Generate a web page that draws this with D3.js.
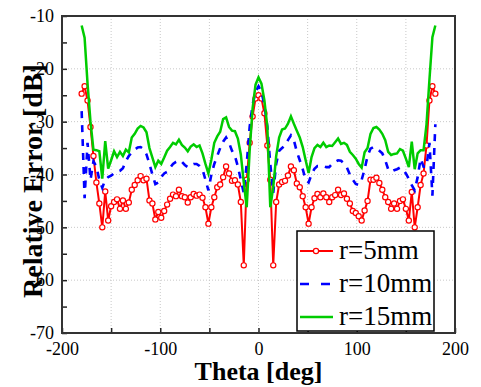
<!DOCTYPE html>
<html>
<head>
<meta charset="utf-8">
<script src="https://cdn.jsdelivr.net/npm/d3@7"></script>
<style>
  body { margin: 0; background: #fff; }
  text { font-family: "Liberation Serif", "Times New Roman", Times, serif; }
</style>
</head>
<body>
<svg id="chart" width="481" height="387"></svg>
<script>
// angles (deg)
const theta = [-180,-177,-174,-171,-168,-165,-162,-159,-156,-153,-150,-147,-144,-141,-138,-135,-132,-129,-126,-123,
  -120,-117,-114,-111,-108,-105,-102,-99,-96,-93,-90,-87,-84,-81,-78,-75,-72,-69,-66,-63,
  -60,-57,-54,-51,-48,-45,-42,-39,-36,-33,-30,-27,-24,-21,-18,-15,-12,-9,-6,-3,
  0,3,6,9,12,15,18,21,24,27,30,33,36,39,42,45,48,51,54,57,
  60,63,66,69,72,75,78,81,84,87,90,93,96,99,102,105,108,111,114,117,
  120,123,126,129,132,135,138,141,144,147,150,153,156,159,162,165,168,171,174,177,180];

// r = 5mm
const r5 = [-24.7,-23.3,-26.0,-31.0,-36.5,-41.5,-45.5,-50.0,-43.2,-48.7,-46.0,-45.2,-44.7,-46.5,-44.9,-46.5,-45.3,-42.9,-42.0,-41.1,
  -40.3,-41.1,-40.8,-44.9,-45.5,-48.5,-47.1,-48.2,-46.9,-45.7,-44.6,-43.8,-44.1,-42.9,-44.1,-44.3,-45.3,-44.3,-43.7,-44.0,
  -43.8,-44.4,-46.2,-49.3,-46.2,-44.3,-42.4,-41.9,-40.5,-38.5,-39.8,-41.2,-41.1,-41.9,-45.2,-57.2,-41.0,-34.0,-29.0,-25.6,
  -25.0,-25.6,-28.4,-34.5,-41.0,-57.2,-45.2,-41.9,-41.4,-41.2,-40.2,-38.5,-39.2,-41.7,-42.4,-44.1,-46.2,-49.3,-46.2,-44.5,
  -43.7,-44.3,-43.6,-44.3,-45.2,-44.3,-43.9,-42.9,-43.9,-43.6,-44.6,-45.5,-46.9,-47.3,-47.9,-48.7,-46.8,-45.0,-41.0,-41.0,
  -40.6,-41.6,-42.9,-44.3,-45.2,-46.5,-45.5,-46.5,-45.0,-44.7,-46.5,-48.7,-43.3,-50.0,-46.2,-42.0,-39.8,-34.5,-26.0,-23.3,-24.7];

// r = 10mm
const r10 = [-28.0,-44.5,-34.0,-41.0,-37.5,-38.5,-41.0,-42.5,-41.0,-40.5,-40.2,-39.8,-39.5,-39.3,-38.8,-37.5,-36.5,-35.8,-35.3,-34.9,
  -34.8,-35.2,-36.2,-38.0,-40.0,-41.8,-41.5,-40.5,-39.8,-39.5,-38.7,-38.0,-37.6,-37.3,-37.6,-38.2,-38.6,-38.3,-38.0,-38.0,
  -38.4,-39.0,-41.0,-43.0,-40.0,-38.0,-36.5,-35.0,-33.8,-33.0,-34.0,-35.5,-36.5,-38.5,-41.0,-43.5,-38.0,-31.0,-26.8,-24.3,
  -23.3,-24.3,-26.8,-31.0,-38.0,-43.5,-38.0,-35.5,-35.0,-34.5,-33.5,-32.6,-33.5,-35.7,-37.3,-39.0,-41.0,-41.5,-40.0,-38.9,
  -38.4,-38.4,-38.4,-38.6,-38.6,-38.0,-37.6,-37.3,-37.4,-37.9,-38.7,-40.0,-41.0,-41.8,-42.0,-41.0,-39.0,-36.5,-35.1,-34.8,
  -35.0,-35.5,-36.0,-37.3,-39.0,-39.5,-39.2,-39.0,-38.7,-39.0,-39.8,-40.8,-42.0,-43.0,-40.5,-37.0,-38.5,-38.5,-34.0,-44.0,-30.5];

// r = 15mm
const r15 = [-11.8,-14.1,-22.8,-30.0,-35.3,-35.4,-35.6,-40.8,-33.7,-38.9,-37.3,-35.6,-36.7,-35.7,-36.5,-35.3,-35.8,-33.0,-32.3,-31.3,
  -30.8,-31.1,-32.0,-35.0,-36.8,-38.6,-37.4,-38.0,-36.8,-35.5,-34.8,-34.0,-34.3,-33.4,-34.4,-34.9,-35.6,-34.7,-34.3,-34.8,
  -34.5,-36.0,-38.0,-39.8,-37.2,-34.0,-32.8,-31.9,-29.5,-29.2,-31.0,-31.7,-31.8,-33.2,-36.2,-41.5,-46.2,-35.5,-27.5,-23.0,
  -21.6,-22.8,-26.0,-31.0,-46.2,-42.4,-36.5,-33.0,-31.5,-31.3,-30.4,-29.0,-30.4,-31.7,-33.0,-34.8,-37.3,-39.7,-36.7,-35.0,
  -34.4,-34.8,-34.0,-34.8,-34.5,-34.6,-33.9,-33.2,-34.2,-34.0,-34.4,-35.7,-36.3,-37.0,-38.0,-38.7,-35.8,-35.0,-32.3,-31.2,
  -31.0,-31.5,-32.3,-33.5,-35.7,-36.3,-36.1,-36.0,-35.2,-35.5,-37.0,-38.6,-33.8,-39.0,-36.0,-35.4,-35.4,-30.5,-22.0,-14.0,-11.8];

const seriesNames = ['r=5mm', 'r=10mm', 'r=15mm'];
const xTicks = [-200, -150, -100, -50, 0, 50, 100, 150, 200];
const yTicks = [-70, -65, -60, -55, -50, -45, -40, -35, -30, -25, -20, -15, -10];

const serif = '"Liberation Serif", "Times New Roman", Times, serif';

const svg = d3.select('#chart');
const box = {left: 62, right: 455, top: 16, bottom: 333};

const x = d3.scaleLinear().domain([-200, 200]).range([box.left, box.right]);
const y = d3.scaleLinear().domain([-70, -10]).range([box.bottom, box.top]);

// grid
const grid = svg.append('g').attr('class', 'grid')
  .style('stroke', '#c8c8c8').style('stroke-dasharray', '1,2');
grid.selectAll('line.gx')
  .data(xTicks.filter(d => d > -200 && d < 200))
  .enter().append('line')
    .attr('x1', d => x(d)).attr('x2', d => x(d))
    .attr('y1', box.top).attr('y2', box.bottom);
grid.selectAll('line.gy')
  .data(yTicks.filter(d => d % 10 === 0 && d > -70 && d < -10))
  .enter().append('line')
    .attr('x1', box.left).attr('x2', box.right)
    .attr('y1', d => y(d)).attr('y2', d => y(d));

// lines
const line = vals => d3.line()
  .x((d, i) => x(theta[i]))
  .y(d => y(d))(vals);

const plot = svg.append('g');

plot.append('path')
  .attr('d', line(r5))
  .style('fill', 'none').style('stroke', '#ff0000').style('stroke-width', 2);

plot.selectAll('circle.m5')
  .data(r5).enter().append('circle')
    .attr('cx', (d, i) => x(theta[i]))
    .attr('cy', d => y(d))
    .attr('r', 2.6)
    .style('fill', '#fff').style('stroke', '#ff0000').style('stroke-width', 1.2);

plot.append('path')
  .attr('d', line(r10))
  .style('fill', 'none').style('stroke', '#0000ff').style('stroke-width', 2.6)
  .style('stroke-dasharray', '7,7');

plot.append('path')
  .attr('d', line(r15))
  .style('fill', 'none').style('stroke', '#00cc00').style('stroke-width', 2.5);

// axes
const fontTick = '18px';
svg.append('g')
  .attr('transform', `translate(0,${box.bottom})`)
  .call(d3.axisBottom(x).tickValues(xTicks).tickSizeInner(-5).tickSizeOuter(0).tickPadding(9)
    .tickFormat(d => d % 100 === 0 ? d : ''))
  .attr('font-family', serif)
  .call(g => g.select('.domain').remove())
  .call(g => g.selectAll('line').style('stroke', '#222').style('stroke-width', 1.5))
  .call(g => g.selectAll('text').style('font-size', fontTick).style('fill', '#000'));

svg.append('g')
  .attr('transform', `translate(${box.left},0)`)
  .call(d3.axisLeft(y).tickValues(yTicks).tickSizeInner(-5).tickSizeOuter(0).tickPadding(8)
    .tickFormat(d => d % 10 === 0 ? d : ''))
  .attr('font-family', serif)
  .call(g => g.select('.domain').remove())
  .call(g => g.selectAll('line').style('stroke', '#222').style('stroke-width', 1.5))
  .call(g => g.selectAll('text').style('font-size', fontTick).style('fill', '#000'));

// frame
svg.append('rect')
  .attr('x', box.left).attr('y', box.top)
  .attr('width', box.right - box.left).attr('height', box.bottom - box.top)
  .style('fill', 'none').style('stroke', '#333').style('stroke-width', 2);

// axis titles
svg.append('text')
  .attr('x', (box.left + box.right) / 2).attr('y', 380)
  .attr('text-anchor', 'middle')
  .attr('font-family', serif)
  .style('font-size', '26px').style('font-weight', 'bold')
  .text('Theta [deg]');

svg.append('text')
  .attr('transform', 'translate(42,181) rotate(-90)')
  .attr('text-anchor', 'middle')
  .attr('font-family', serif)
  .style('font-size', '28px').style('font-weight', 'bold')
  .text('Relative Error [dB]');

// legend
const lg = {x: 297, y: 231, w: 137, h: 100, rowY: [251, 284, 317]};
const legend = svg.append('g').attr('font-family', serif);
legend.append('rect')
  .attr('x', lg.x).attr('y', lg.y).attr('width', lg.w).attr('height', lg.h)
  .style('fill', '#fff').style('stroke', '#000').style('stroke-width', 1.5);

const lstyles = [
  {stroke: '#ff0000', width: 2, dash: null},
  {stroke: '#0000ff', width: 2.6, dash: '9,12'},
  {stroke: '#00cc00', width: 2.5, dash: null}
];
seriesNames.forEach((name, i) => {
  const cy = lg.rowY[i];
  legend.append('line')
    .attr('x1', lg.x + 3).attr('x2', lg.x + 36)
    .attr('y1', cy).attr('y2', cy)
    .style('stroke', lstyles[i].stroke).style('stroke-width', lstyles[i].width)
    .style('stroke-dasharray', lstyles[i].dash);
  if (i === 0) {
    legend.append('circle')
      .attr('cx', lg.x + 19).attr('cy', cy).attr('r', 2.6)
      .style('fill', '#fff').style('stroke', '#ff0000').style('stroke-width', 1.2);
  }
  legend.append('text')
    .attr('x', lg.x + 42).attr('y', cy + 8)
    .style('font-size', '27px')
    .text(name);
});
</script>
</body>
</html>
